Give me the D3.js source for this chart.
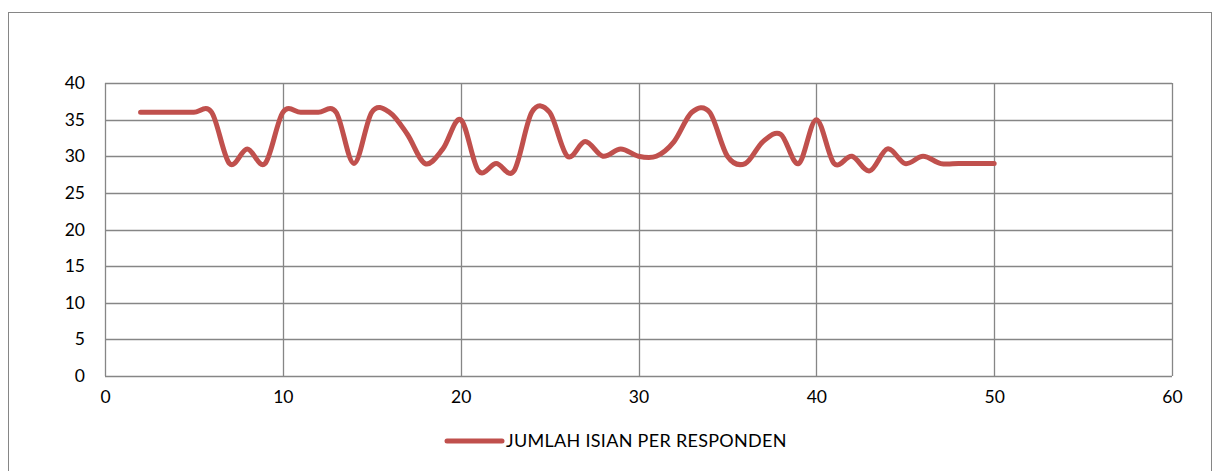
<!DOCTYPE html>
<html>
<head>
<meta charset="utf-8">
<script src="https://cdn.jsdelivr.net/npm/d3@7/dist/d3.min.js"></script>
<style>
  html, body { margin: 0; padding: 0; background: #ffffff; }
  svg { display: block; }
  text { font-family: Lato, "Open Sans", "Liberation Sans", sans-serif; fill: #000; }
</style>
</head>
<body>
<svg id="chart" width="1219" height="471"></svg>
<script>
// Respondent number and number of filled answers per respondent
const respondents = [2,3,4,5,6,7,8,9,10,11,12,13,14,15,16,17,18,19,20,21,22,23,24,25,26,
                     27,28,29,30,31,32,33,34,35,36,37,38,39,40,41,42,43,44,45,46,47,48,49,50];
const answers = [36,36,36,36,36,29,31,29,36,36,36,36,29,36,36,33,29,31,35,28,29,28,36,36,30,
                 32,30,31,30,30,32,36,36,30,29,32,33,29,35,29,30,28,31,29,30,29,29,29,29];
const xTicks = [0,10,20,30,40,50,60];
const yTicks = [0,5,10,15,20,25,30,35,40];
const seriesName = "JUMLAH ISIAN PER RESPONDEN";

const svg = d3.select("#chart");
const gridColor = "#868686";
const lineColor = "#C0504D";
const fontSize = 17.5;

// Chart frame
svg.append("rect")
  .attr("x", 8.5).attr("y", 12.5)
  .attr("width", 1203).attr("height", 480)
  .attr("fill", "none").attr("stroke", gridColor).attr("stroke-width", 1);

const plot = { left: 105, top: 83, right: 1172, bottom: 376 };

const x = d3.scaleLinear().domain([0, 60]).range([plot.left, plot.right]);
const y = d3.scaleLinear().domain([0, 40]).range([plot.bottom, plot.top]);

// Gridlines
const grid = svg.append("g");
grid.selectAll(".hg").data(yTicks).join("line")
  .attr("x1", plot.left).attr("x2", plot.right)
  .attr("y1", d => Math.round(y(d)) + 0.5).attr("y2", d => Math.round(y(d)) + 0.5)
  .attr("stroke", gridColor).attr("stroke-width", 1.3);
grid.selectAll(".vg").data(xTicks).join("line")
  .attr("y1", plot.top).attr("y2", plot.bottom)
  .attr("x1", d => Math.round(x(d)) + 0.5).attr("x2", d => Math.round(x(d)) + 0.5)
  .attr("stroke", gridColor).attr("stroke-width", 1.3);

// Axis labels
const xAxis = d3.axisBottom(x).tickValues(xTicks).tickSize(0).tickPadding(0);
svg.append("g")
  .attr("transform", `translate(0,${plot.bottom + 21})`)
  .call(xAxis)
  .call(g => g.select(".domain").remove())
  .call(g => g.selectAll("text").attr("font-size", fontSize).attr("dy", "0.35em")
    .style("font-family", "Lato, 'Open Sans', sans-serif"));

const yAxis = d3.axisLeft(y).tickValues(yTicks).tickSize(0).tickPadding(0);
svg.append("g")
  .attr("transform", `translate(${plot.left - 20},0)`)
  .call(yAxis)
  .call(g => g.select(".domain").remove())
  .call(g => g.selectAll("text").attr("font-size", fontSize)
    .style("font-family", "Lato, 'Open Sans', sans-serif"));

// Smoothed series line
const data = respondents.map((r, i) => ({ r, v: answers[i] }));
const line = d3.line()
  .x(d => x(d.r))
  .y(d => y(d.v))
  .curve(d3.curveCardinal.tension(0));

svg.append("path")
  .datum(data)
  .attr("d", line)
  .attr("fill", "none")
  .attr("stroke", lineColor)
  .attr("stroke-width", 5)
  .attr("stroke-linecap", "round")
  .attr("stroke-linejoin", "round");

// Legend
const legend = svg.append("g").attr("transform", "translate(447,441)");
legend.append("line")
  .attr("x1", 0).attr("x2", 55).attr("y1", 0).attr("y2", 0)
  .attr("stroke", lineColor).attr("stroke-width", 5).attr("stroke-linecap", "round");
legend.append("text")
  .attr("x", 59).attr("y", 0).attr("dy", "0.35em")
  .attr("font-size", 18)
  .attr("letter-spacing", 0.3)
  .text(seriesName);
</script>
</body>
</html>
